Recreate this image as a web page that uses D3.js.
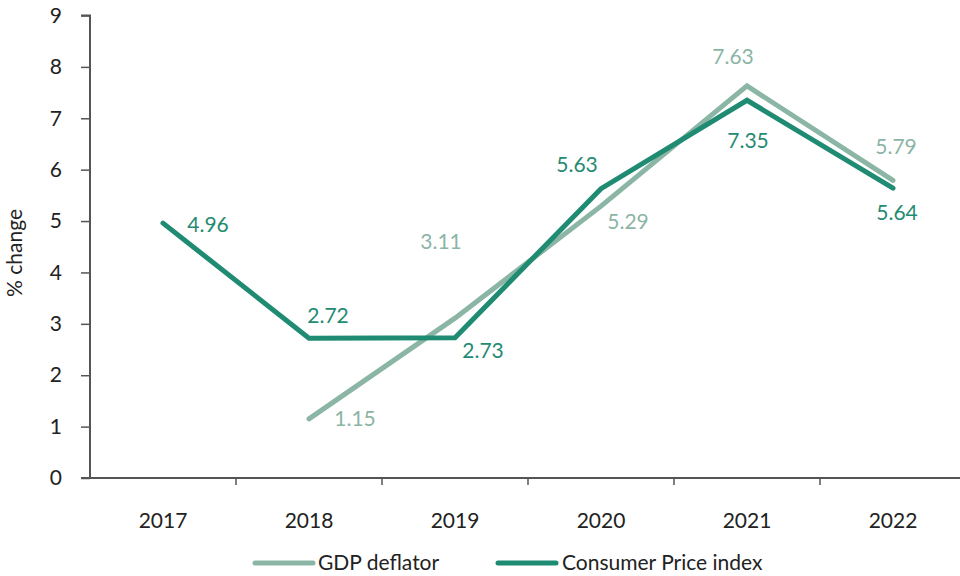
<!DOCTYPE html>
<html><head><meta charset="utf-8">
<script src="https://cdn.jsdelivr.net/npm/d3@7"></script>
<style>body{margin:0;background:#fff}svg{display:block}text{font-family:Lato,"Open Sans",sans-serif}</style>
</head><body><svg id="c" width="960" height="576"></svg>
<script>
const years = ["2017","2018","2019","2020","2021","2022"];
const gdpDeflator = [null, 1.15, 3.11, 5.29, 7.63, 5.79];
const cpi = [4.96, 2.72, 2.73, 5.63, 7.35, 5.64];
const yTicks = [0,1,2,3,4,5,6,7,8,9];
const seriesNames = ["GDP deflator", "Consumer Price index"];
const colors = ["#8bb5a4", "#1f8b72"];
// label offsets (dx, dy) relative to the point
const gdpLabelOff = [null,[46,0],[-14,-77],[27,15],[-14,-29],[3,-34]];
const cpiLabelOff = [[45,2],[19,-23],[28,13],[-24,-24],[1,40],[4,24]];
const FS = 21;

const svg = d3.select("#c");
const x = d3.scaleBand().domain(years).range([90, 966]);
const y = d3.scaleLinear().domain([0, 9]).range([478, 15.5]);
const cx = d => x(d) + x.bandwidth()/2;

const axisColor = "#555";
// y axis
const ya = svg.append("g").attr("transform","translate(90,0)")
  .call(d3.axisLeft(y).tickValues(yTicks).tickSize(9).tickPadding(19).tickFormat(d3.format("d")));
ya.select(".domain").attr("stroke",axisColor).attr("stroke-width",2).attr("d","M-9,15.5H0V478");
ya.selectAll(".tick line").attr("stroke",axisColor).attr("stroke-width",1.5);
ya.selectAll(".tick text").attr("font-size",FS).attr("fill","#222");
// x axis
const xa = svg.append("g").attr("transform","translate(0,478)")
  .call(d3.axisBottom(x).tickSize(0).tickPadding(35));
xa.select(".domain").attr("stroke",axisColor).attr("stroke-width",2).attr("d","M81,0H960");
xa.selectAll(".tick text").attr("font-size",FS).attr("fill","#222");
years.forEach((yr,i)=>{
  const bx = x(yr) + x.bandwidth();
  if (bx < 960) svg.append("line").attr("x1",bx).attr("x2",bx).attr("y1",478).attr("y2",485)
    .attr("stroke",axisColor).attr("stroke-width",1.5);
});

// title
svg.append("text").attr("transform","translate(22,253) rotate(-90)")
  .attr("text-anchor","middle").attr("font-size",FS).attr("fill","#222").text("% change");

const line = d3.line().defined(d=>d.v!=null).x(d=>cx(d.k)).y(d=>y(d.v));
const series = [gdpDeflator, cpi];
const offs = [gdpLabelOff, cpiLabelOff];
series.forEach((s,si)=>{
  const data = years.map((k,i)=>({k, v:s[i]}));
  svg.append("path").datum(data).attr("d",line).attr("fill","none")
    .attr("stroke",colors[si]).attr("stroke-width",5).attr("stroke-linejoin","miter").attr("stroke-linecap","round");
});
series.forEach((s,si)=>{
  years.forEach((k,i)=>{
    if (s[i]==null) return;
    const o = offs[si][i];
    svg.append("text").attr("x",cx(k)+o[0]).attr("y",y(s[i])+o[1]).attr("dy","0.35em")
      .attr("text-anchor","middle").attr("font-size",FS).attr("fill",colors[si]).text(s[i].toFixed(2));
  });
});

// legend
const leg = [[255,318],[498,562]];
seriesNames.forEach((n,i)=>{
  svg.append("line").attr("x1",leg[i][0]).attr("x2",leg[i][0]+58).attr("y1",563).attr("y2",563)
    .attr("stroke",colors[i]).attr("stroke-width",5).attr("stroke-linecap","round");
  svg.append("text").attr("x",leg[i][1]).attr("y",563).attr("dy","0.35em").attr("font-size",FS)
    .attr("fill","#222").text(n);
});
</script></body></html>
